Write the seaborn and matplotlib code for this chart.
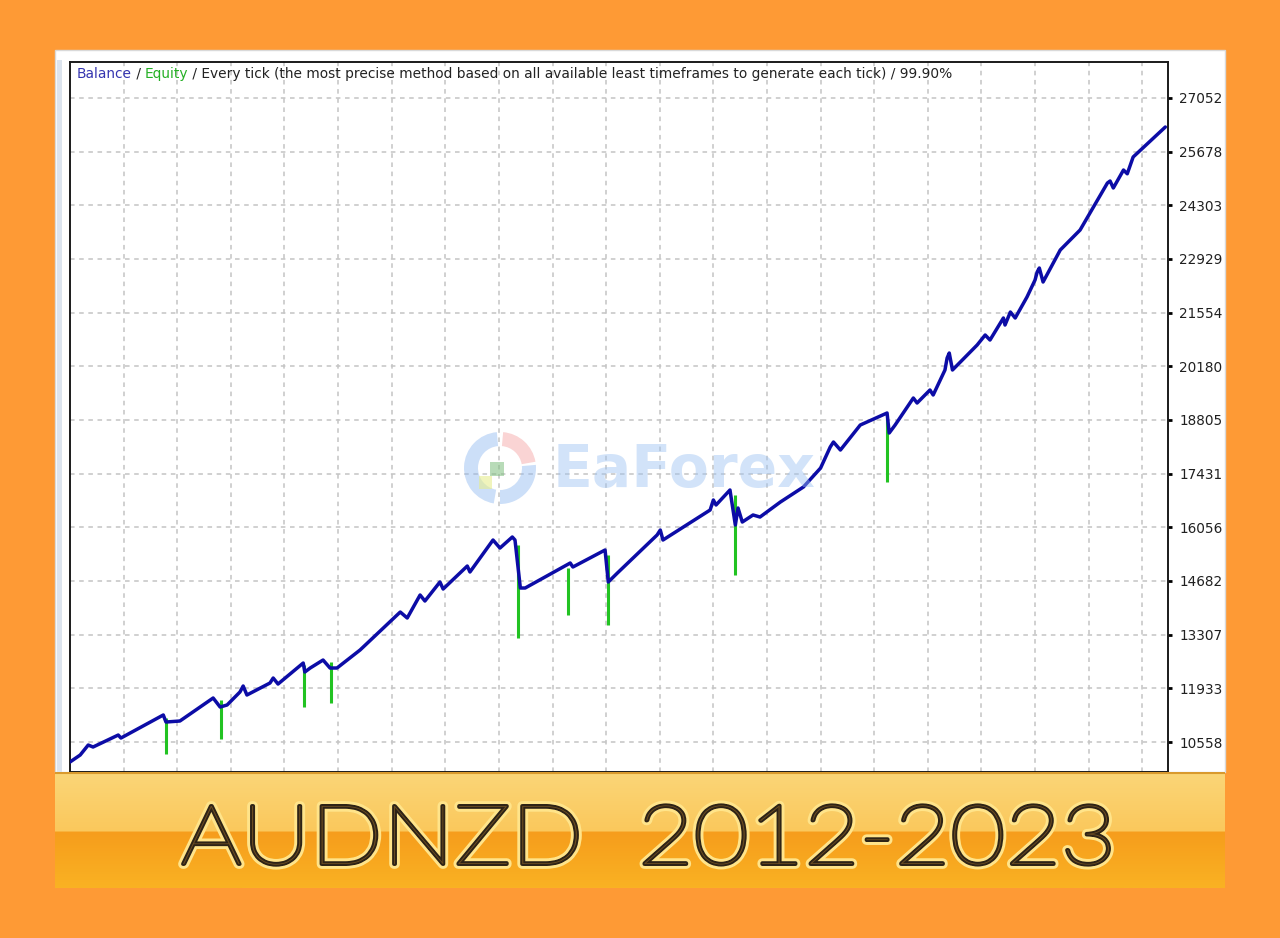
import numpy as np
import pandas as pd
import matplotlib
matplotlib.use("Agg")
import matplotlib.pyplot as plt
import matplotlib.patheffects as pe
from matplotlib import font_manager as fm
from matplotlib.patches import Rectangle, Wedge, PathPatch
from matplotlib.textpath import TextPath
from matplotlib.font_manager import FontProperties
from matplotlib.transforms import Affine2D
import seaborn as sns

# --- data ---
bal_x = [0.00, 0.19, 0.34, 0.43, 0.90, 0.95, 1.74, 1.79, 2.05, 2.67, 2.80, 2.93, 3.17,
         3.23, 3.30, 3.73, 3.79, 3.88, 4.35, 4.38, 4.48, 4.72, 4.85, 4.98, 5.41, 6.16,
         6.29, 6.53, 6.62, 6.90, 6.96, 7.41, 7.46, 7.89, 8.02, 8.25, 8.30, 8.40, 8.49,
         9.33, 9.38, 9.98, 10.04, 10.21, 10.95, 11.01, 11.06, 11.94, 12.00, 12.05,
         12.31, 12.41, 12.46, 12.54, 12.74, 12.87, 13.25, 13.68, 14.00, 14.18, 14.24,
         14.37, 14.74, 15.24, 15.28, 15.39, 15.73, 15.80, 16.04, 16.10, 16.32, 16.36,
         16.40, 16.46, 16.92, 17.07, 17.16, 17.41, 17.44, 17.54, 17.63, 17.85, 18.00,
         18.04, 18.08, 18.15, 18.47, 18.84, 19.35, 19.40, 19.46, 19.65, 19.72, 19.83,
         20.43]
balance = [10046, 10225, 10481, 10430, 10737, 10660, 11250, 11070, 11096, 11685, 11454,
           11506, 11839, 11992, 11762, 12069, 12197, 12043, 12581, 12351, 12453, 12658,
           12453, 12453, 12914, 13887, 13734, 14323, 14169, 14656, 14476, 15065, 14912,
           15731, 15526, 15808, 15731, 14502, 14502, 15142, 15040, 15475, 14656, 14886,
           15859, 15987, 15731, 16500, 16756, 16628, 17012, 16115, 16551, 16192, 16372,
           16320, 16704, 17089, 17575, 18113, 18241, 18036, 18676, 18984, 18472, 18676,
           19368, 19240, 19573, 19445, 20085, 20392, 20520, 20085, 20725, 20981, 20853,
           21417, 21237, 21570, 21417, 21955, 22390, 22595, 22697, 22339, 23158, 23670,
           24874, 24925, 24746, 25207, 25110, 25540, 26308]

# equity drawdown spikes
dip_x = [1.79, 2.82, 4.37, 4.87, 8.36, 9.29, 10.04, 12.41, 15.24]
dip_top = [11173, 11634, 12530, 12607, 15603, 15014, 15347, 16884, 18856]
dip_low = [10251, 10635, 11454, 11557, 13221, 13810, 13554, 14835, 17217]

ytick_vals = [10558, 11933, 13307, 14682, 16056, 17431, 18805, 20180, 21554,
              22929, 24303, 25678, 27052]
ytick_labels = ["10558", "11933", "13307", "14682", "16056", "17431", "18805",
                "20180", "21554", "22929", "24303", "25678", "27052"]

banner_title = "AUDNZD  2012-2023"

W, H = 1280, 938
sns.set_theme(style="white")
plt.rcParams["font.family"] = ["DejaVu Sans"]

fig = plt.figure(figsize=(W / 100, H / 100), dpi=100, facecolor="#FE9A35")

# white panel behind the chart
fig.add_artist(Rectangle((55 / W, 1 - 772 / H), 1170 / W, 722 / H,
                         transform=fig.transFigure, facecolor="white",
                         edgecolor="#D9D9D9", lw=1, zorder=0))
fig.add_artist(Rectangle((57 / W, 1 - 772 / H), 5 / W, 712 / H,
                         transform=fig.transFigure, facecolor="#DCE4EE",
                         edgecolor="none", zorder=0))

ax = fig.add_axes([70 / W, 1 - 772 / H, 1098 / W, 710 / H])
ax.set_facecolor("white")

df = pd.DataFrame({"x": bal_x, "balance": balance})

ax.vlines(dip_x, dip_low, dip_top, color="#22C322", lw=2.2, zorder=3)
sns.lineplot(data=df, x="x", y="balance", sort=False, estimator=None,
             color="#0C0CA6", lw=2.5, ax=ax, zorder=4)

ax.set_xlim(0, 20.48)
ax.set_ylim(9790, 27973)
ax.set_xticks(np.arange(1, 21))
ax.set_xticklabels([])
ax.set_yticks(ytick_vals)
ax.set_yticklabels(ytick_labels)
ax.yaxis.tick_right()
ax.tick_params(axis="y", direction="out", length=3, width=2, color="black",
               labelsize=9.8, labelcolor="#202020", pad=5, right=True, left=False)
ax.tick_params(axis="x", length=0)
ax.grid(True, color="#C4C4C4", linestyle=(0, (3, 3)), lw=1.1)
ax.set_xlabel("")
ax.set_ylabel("")
for s in ax.spines.values():
    s.set_color("#1A1A1A")
    s.set_linewidth(1.4)

# header line
fs = 9.9
t1 = ax.text(0.006, 0.993, "Balance", transform=ax.transAxes, fontsize=fs,
             color="#3535B0", va="top", ha="left")
t2 = ax.annotate(" / ", xy=(1, 0), xycoords=t1, fontsize=fs, color="#222222",
                 va="bottom", ha="left")
t3 = ax.annotate("Equity", xy=(1, 0), xycoords=t2, fontsize=fs, color="#25B025",
                 va="bottom", ha="left")
ax.annotate(" / Every tick (the most precise method based on all available least "
            "timeframes to generate each tick) / 99.90%", xy=(1, 0), xycoords=t3,
            fontsize=fs, color="#222222", va="bottom", ha="left")

# watermark
ax.text(0.44, 0.425, "EaForex", transform=ax.transAxes, fontsize=42,
        fontweight="bold", color="#9CC2F2", alpha=0.45, ha="left", va="center",
        zorder=5)
for th1, th2, col in [(95, 260, "#8FB8F0"), (-90, 5, "#8FB8F0"), (10, 85, "#F4A0A0")]:
    fig.add_artist(Wedge((500, H - 468), 36, th1, th2, width=14,
                         transform=None, facecolor=col, alpha=0.45,
                         edgecolor="none", zorder=6))
fig.add_artist(Rectangle((490 / W, 1 - 476 / H), 14 / W, 14 / H,
                         transform=fig.transFigure, facecolor="#7FBF7F",
                         alpha=0.55, edgecolor="none", zorder=6))
fig.add_artist(Rectangle((479 / W, 1 - 489 / H), 13 / W, 13 / H,
                         transform=fig.transFigure, facecolor="#E6EE90",
                         alpha=0.6, edgecolor="none", zorder=6))

# bottom banner
bx = fig.add_axes([55 / W, 1 - 888 / H, 1170 / W, 116 / H])
top_part = np.linspace([251, 214, 120], [250, 200, 92], 60)
bot_part = np.linspace([246, 157, 28], [250, 178, 35], 56)
grad = np.vstack([top_part, bot_part]) / 255.0
bx.imshow(grad[:, None, :], aspect="auto", extent=[0, 1, 0, 1])
bx.axhline(0.995, color="#D99A2E", lw=1.5)
bx.set_axis_off()

# thin font for the banner title, if one is installed
fp = FontProperties(family="DejaVu Sans")
for fam in ["Lato", "Roboto", "Open Sans", "Inter", "Noto Sans"]:
    found = None
    for wt in ["light", "ultralight"]:
        try:
            path = fm.findfont(FontProperties(family=fam, weight=wt),
                               fallback_to_default=False)
        except Exception:
            continue
        if "light" in path.lower() or "thin" in path.lower():
            found = path
            break
    if found:
        fp = FontProperties(fname=found)
        break

tp = TextPath((0, 0), banner_title, size=1, prop=fp)
ext = tp.get_extents()
cap_h = TextPath((0, 0), "H", size=1, prop=fp).get_extents().height
sy = 58 / cap_h
sx = 926 / ext.width
tr = Affine2D().translate(-ext.x0, 0).scale(sx, sy).translate(183, H - 864)
fig.add_artist(PathPatch(tp, transform=tr, facecolor="#6A4C22", edgecolor="none",
                         zorder=10,
                         path_effects=[pe.Stroke(linewidth=7, foreground="#FFE48A",
                                                 joinstyle="round"),
                                       pe.Stroke(linewidth=2.8, foreground="#2E2316",
                                                 joinstyle="round"),
                                       pe.Normal()]))

fig.savefig("out.png", dpi=100, facecolor=fig.get_facecolor())
